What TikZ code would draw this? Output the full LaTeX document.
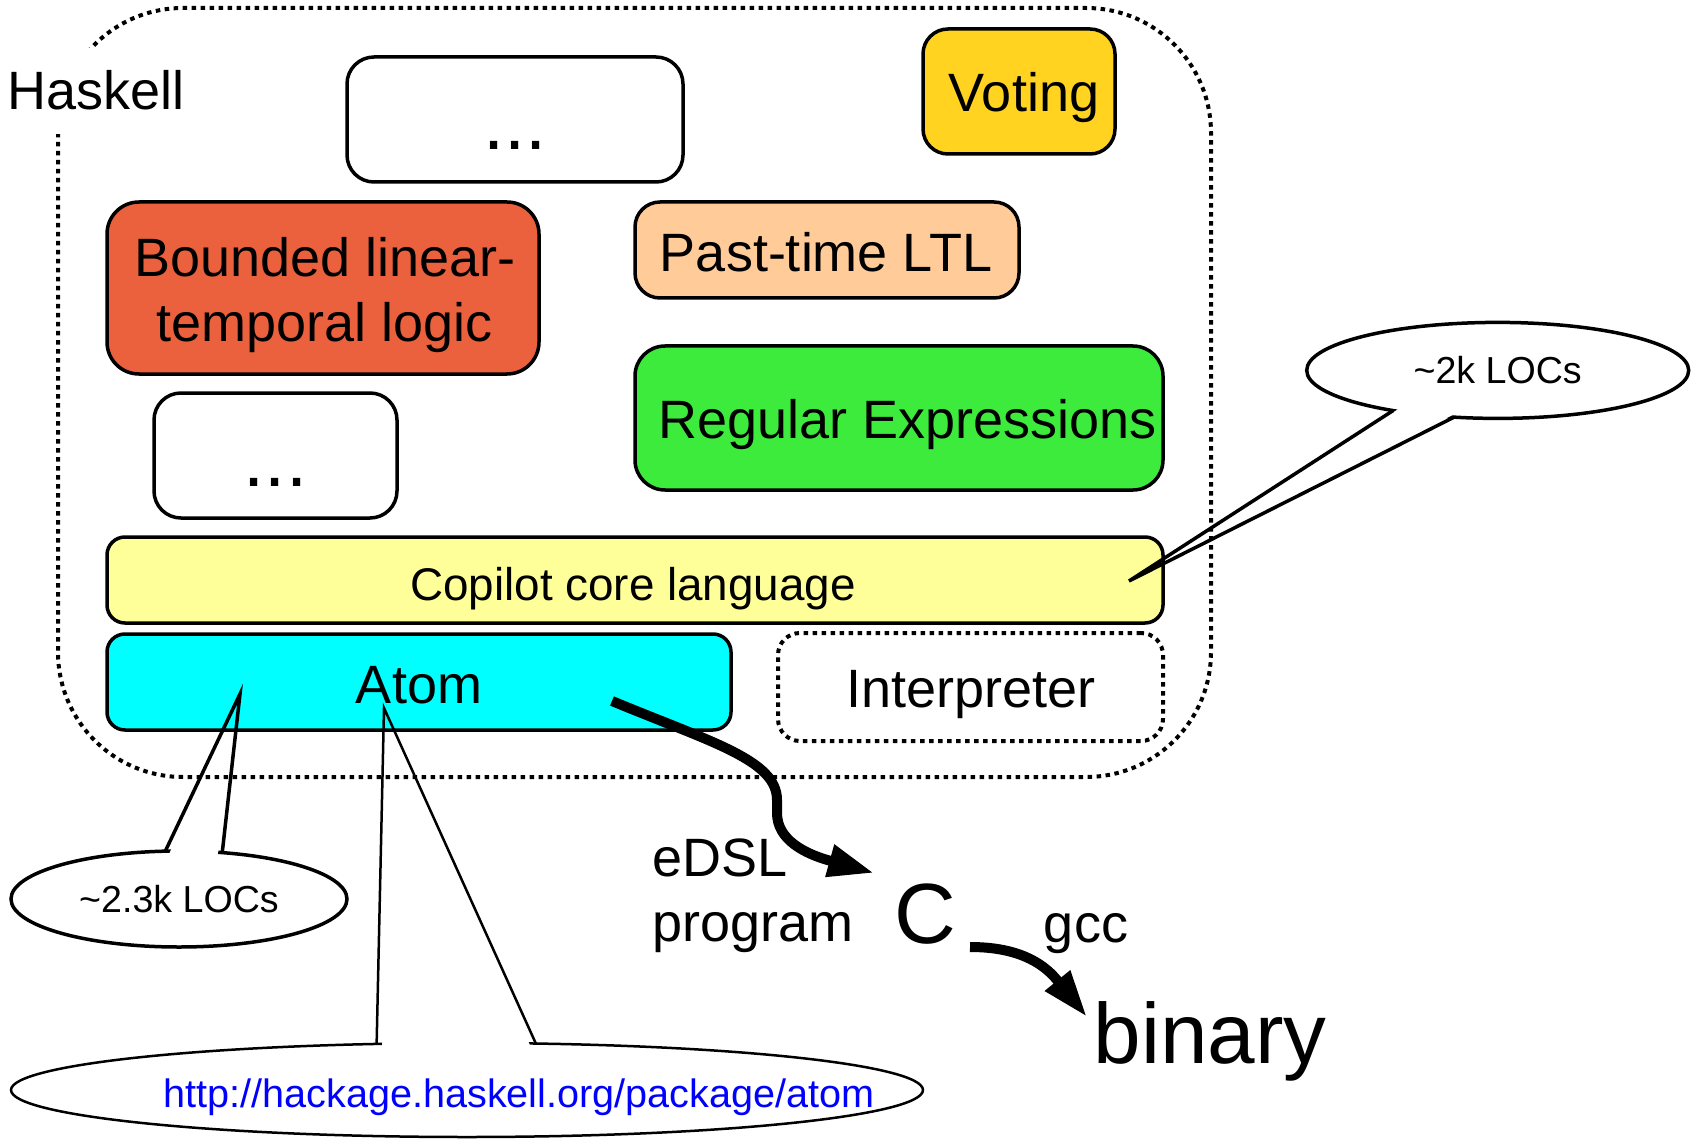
\documentclass[tikz,border=0pt]{standalone}
\usepackage{fontspec}
\setmainfont{Liberation Sans}
\usetikzlibrary{arrows.meta,shapes.geometric,calc}
\definecolor{boundedc}{RGB}{235,97,61}
\definecolor{pastc}{RGB}{255,204,153}
\definecolor{votingc}{RGB}{255,211,32}
\definecolor{regexc}{RGB}{61,235,61}
\definecolor{copilotc}{RGB}{255,255,153}
\definecolor{atomc}{RGB}{0,255,255}
\definecolor{urlc}{RGB}{0,0,255}
\begin{document}
\begin{tikzpicture}[x=1pt,y=-1pt,
  box/.style={draw=black, line width=3.5pt, inner sep=0pt, outer sep=0pt, rounded corners=25pt},
  dotline/.style={draw=black, line width=4pt, dash pattern=on 4.5pt off 4.5pt},
  lbl/.style={inner sep=0pt, outer sep=0pt, anchor=base, font=\fontsize{54}{63}\selectfont},
  dotslbl/.style={inner sep=0pt, outer sep=0pt, anchor=base, font=\fontsize{76}{80}\selectfont},
  bubble/.style={ellipse, fill=white, inner sep=0pt, outer sep=0pt, font=\fontsize{37.6}{44}\selectfont},
  bubbleline/.style={draw=black, line width=3.5pt},
  bigarrow/.style={draw=black, line width=10pt},
]
\useasboundingbox (0,0) rectangle (1691,1139);

% Haskell frame
\draw[dotline, rounded corners=125pt] (58,8) rectangle (1211,777);
\node[lbl, fill=white, inner xsep=8pt, inner ysep=23pt] (haskell) at (96,110) {Haskell};

% boxes
\node[box, fill=white, minimum width=336pt, minimum height=125pt, rounded corners=27pt] (dotsA) at (515,119.5) {};
\node[dotslbl] (dotsAtxt) at (515,150) {...};

\node[box, fill=votingc, minimum width=192pt, minimum height=125pt] (voting) at (1019,91.5) {};
\node[lbl] (votingtxt) at (1024,112) {Voting};

\node[box, fill=boundedc, minimum width=432pt, minimum height=172pt, rounded corners=32pt] (bounded) at (323,288) {};
\node[inner sep=0pt, outer sep=0pt, align=center, font=\fontsize{54}{65}\selectfont] (boundedtxt) at (325,295.5) {Bounded linear-\\temporal logic};

\node[box, fill=pastc, minimum width=384pt, minimum height=96pt] (past) at (827,250) {};
\node[lbl] (pasttxt) at (826,272) {Past-time LTL};

\node[box, fill=white, minimum width=243pt, minimum height=125pt, rounded corners=27pt] (dotsB) at (275.5,455.5) {};
\node[dotslbl] (dotsBtxt) at (275.5,486) {...};

\node[box, fill=regexc, minimum width=528pt, minimum height=144pt, rounded corners=30pt] (regex) at (899,418) {};
\node[lbl] (regextxt) at (908,438) {Regular Expressions};

\node[box, fill=copilotc, minimum width=1056pt, minimum height=86pt, rounded corners=18pt] (copilot) at (635,580) {};
\node[lbl, font=\fontsize{45.8}{54}\selectfont] (copilottxt) at (633,600) {Copilot core language};

\node[box, fill=atomc, minimum width=624pt, minimum height=96pt, rounded corners=18pt] (atom) at (419,682) {};
\node[lbl] (atomtxt) at (419,703) {Atom};

\node[dotline, inner sep=0pt, outer sep=0pt, minimum width=385pt, minimum height=108pt, rounded corners=22pt] (interp) at (970.5,687) {};
\node[lbl] (interptxt) at (971,707) {Interpreter};

% outputs
\node[inner sep=0pt, outer sep=0pt, anchor=west, align=left, font=\fontsize{54}{65}\selectfont] (edsl) at (652,895.8) {eDSL\\program};
\node[lbl, font=\fontsize{85.5}{90}\selectfont] (cnode) at (925,943) {C};
\node[lbl] (gcc) at (1086,942) {gcc};
\node[lbl, font=\fontsize{85.5}{90}\selectfont] (binary) at (1210,1063) {binary};

% thick arrows
\coordinate (edslfrom) at (612,701);
\coordinate (edslto) at (874,873);
\draw[bigarrow, -{Triangle[length=46pt,width=31pt]}] (edslfrom) .. controls (712,742.5) and (777,760) .. (777,800) -- (777,813) .. controls (777,840) and (805.3,853.8) .. (829.5,860.6) -- (edslto);
\coordinate (gccfrom) at (970,947);
\coordinate (gccto) at (1087,1017);
\draw[bigarrow, -{Triangle[length=47pt,width=30pt]}] (gccfrom) .. controls (1015,947) and (1041.6,961) .. (1057.4,980.5) -- (gccto);

% callout ~2k LOCs
\node[bubble, minimum width=382pt, minimum height=96pt] (loc2k) at (1497.7,370.4) {\textasciitilde 2k LOCs};
\coordinate (tip2k) at (1129,581);
\begin{scope}[even odd rule]
  \clip (0,0) rectangle (1691,1139)
    ($(loc2k.201)!7pt!(loc2k.center)$) -- (tip2k) -- ($(loc2k.227)!7pt!(loc2k.center)$) -- cycle;
  \draw[bubbleline] (loc2k.center) ellipse [x radius=191, y radius=48];
\end{scope}
\draw[bubbleline] (loc2k.201) -- (tip2k) -- (loc2k.227);

% callout ~2.3k LOCs
\node[bubble, minimum width=336pt, minimum height=96pt] (loc23k) at (179,899) {\textasciitilde 2.3k LOCs};
\coordinate (tip23k) at (240,694);
\begin{scope}[even odd rule]
  \clip (0,0) rectangle (1691,1139)
    ($(loc23k.106)!7pt!(loc23k.center)$) -- (tip23k) -- ($(loc23k.47)!7pt!(loc23k.center)$) -- cycle;
  \draw[bubbleline] (loc23k.center) ellipse [x radius=168, y radius=48];
\end{scope}
\draw[bubbleline] (loc23k.106) -- (tip23k) -- (loc23k.47);

% callout URL
\node[bubble, minimum width=912pt, minimum height=94pt] (urlbub) at (467,1090) {};
\coordinate (tipurl) at (384,708);
\begin{scope}[even odd rule]
  \clip (0,0) rectangle (1691,1139)
    ($(urlbub.153)!6pt!(urlbub.center)$) -- (tipurl) -- ($(urlbub.34)!6pt!(urlbub.center)$) -- cycle;
  \draw[draw=black, line width=2.5pt] (urlbub.center) ellipse [x radius=456, y radius=47];
\end{scope}
\draw[draw=black, line width=2.5pt] (urlbub.153) -- (tipurl) -- (urlbub.34);
\node[lbl, text=urlc, font=\fontsize{39.6}{46}\selectfont] (urltxt) at (519,1107) {http://hackage.haskell.org/package/atom};
\end{tikzpicture}
\end{document}
